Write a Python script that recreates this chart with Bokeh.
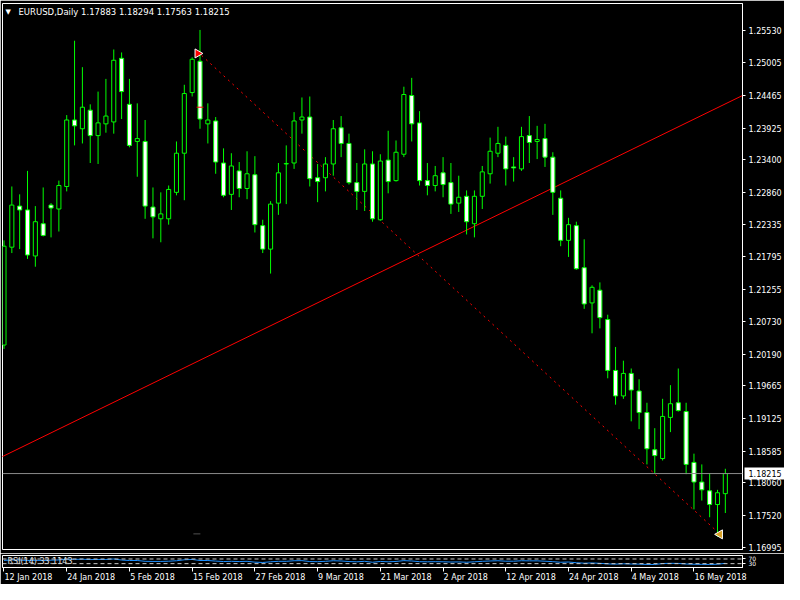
from bokeh.plotting import figure
from bokeh.models import Range1d, FixedTicker, Span, PrintfTickFormatter, LinearAxis
from bokeh.layouts import column
from bokeh.embed import file_html
from bokeh.resources import INLINE
from bokeh.core.properties import value
import math

# ---- data (EURUSD daily, 12 Jan 2018 .. 22 May 2018; bar index = trading day) ----
opens = [1.20339, 1.21956, 1.22635, 1.22571, 1.21811, 1.22344, 1.22652, 1.22587, 1.22959, 1.24058,
         1.23913, 1.24220, 1.23800, 1.23994, 1.24026, 1.25077, 1.24317, 1.23703, 1.23703, 1.22619,
         1.22425, 1.22425, 1.22862, 1.23509, 1.24511, 1.25029, 1.23994, 1.24042, 1.23347, 1.22829,
         1.23217, 1.22926, 1.23153, 1.22312, 1.21924, 1.22684, 1.23331, 1.23347, 1.24058, 1.24107,
         1.23104, 1.23104, 1.23331, 1.23929, 1.23670, 1.23023, 1.22878, 1.23331, 1.22409, 1.23395,
         1.23056, 1.23492, 1.24463, 1.24010, 1.23056, 1.22975, 1.23185, 1.23023, 1.22684, 1.22797,
         1.22344, 1.22797, 1.23169, 1.23509, 1.23638, 1.23282, 1.23250, 1.23800, 1.23703, 1.23751,
         1.23444, 1.22765, 1.22069, 1.22312, 1.21617, 1.21035, 1.21245, 1.20760, 1.19919, 1.19498,
         1.19870, 1.19579, 1.19223, 1.18609, 1.18463, 1.19143, 1.19385, 1.19240, 1.18399, 1.18075,
         1.17930, 1.17703, 1.17883]
highs = [1.22069, 1.22959, 1.22829, 1.23217, 1.22635, 1.22943, 1.22684, 1.23056, 1.24139, 1.25368,
         1.24931, 1.24317, 1.24527, 1.24737, 1.25223, 1.25174, 1.24737, 1.24333, 1.24058, 1.22943,
         1.22862, 1.22975, 1.23703, 1.24640, 1.25093, 1.25546, 1.24333, 1.24107, 1.23589, 1.23509,
         1.23363, 1.23541, 1.23460, 1.22409, 1.22716, 1.23347, 1.23638, 1.24188, 1.24430, 1.24446,
         1.23331, 1.23444, 1.24058, 1.24123, 1.23832, 1.23347, 1.23573, 1.23541, 1.23492, 1.23880,
         1.23719, 1.24608, 1.24754, 1.24204, 1.23347, 1.23298, 1.23444, 1.23347, 1.23137, 1.22894,
         1.22894, 1.23298, 1.23767, 1.23945, 1.23783, 1.23444, 1.23945, 1.24123, 1.23961, 1.23994,
         1.23525, 1.22894, 1.22441, 1.22377, 1.22086, 1.21326, 1.21374, 1.20840, 1.20307, 1.20080,
         1.19951, 1.19773, 1.19385, 1.18965, 1.19450, 1.19676, 1.19951, 1.19385, 1.18544, 1.18366,
         1.18221, 1.17946, 1.18294]
lows = [1.20275, 1.21859, 1.21924, 1.21762, 1.21633, 1.22134, 1.22118, 1.22215, 1.22878, 1.23638,
        1.23670, 1.23347, 1.23331, 1.23848, 1.23832, 1.24074, 1.23606, 1.23120, 1.22425, 1.22102,
        1.22037, 1.22328, 1.22813, 1.22732, 1.24446, 1.23913, 1.23670, 1.23169, 1.22781, 1.22571,
        1.22781, 1.22749, 1.22199, 1.21859, 1.21520, 1.22490, 1.22668, 1.23250, 1.23832, 1.22959,
        1.22700, 1.22878, 1.23137, 1.23444, 1.22991, 1.22571, 1.22554, 1.22377, 1.22393, 1.22846,
        1.23040, 1.23444, 1.23703, 1.22975, 1.22813, 1.22878, 1.22781, 1.22506, 1.22538, 1.22166,
        1.22118, 1.22587, 1.23007, 1.23444, 1.22975, 1.23040, 1.23217, 1.23347, 1.23412, 1.23282,
        1.22490, 1.21972, 1.21795, 1.21584, 1.20937, 1.20533, 1.20614, 1.19789, 1.19353, 1.19450,
        1.19078, 1.18949, 1.18366, 1.18221, 1.18431, 1.18900, 1.19240, 1.18205, 1.17623, 1.17768,
        1.17493, 1.17170, 1.17563]
closes = [1.21972, 1.22652, 1.22571, 1.21827, 1.22377, 1.22150, 1.22603, 1.22975, 1.24058, 1.23961,
          1.24269, 1.23800, 1.24010, 1.24123, 1.25045, 1.24527, 1.23638, 1.23751, 1.22635, 1.22457,
          1.22506, 1.22910, 1.23509, 1.24495, 1.25061, 1.24074, 1.24058, 1.23363, 1.22813, 1.23298,
          1.22926, 1.23169, 1.22328, 1.21924, 1.22668, 1.23185, 1.23339, 1.24042, 1.24107, 1.23088,
          1.23040, 1.23331, 1.23913, 1.23670, 1.23023, 1.22878, 1.23331, 1.22425, 1.23379, 1.23040,
          1.23525, 1.24479, 1.23994, 1.23056, 1.22975, 1.23137, 1.22991, 1.22668, 1.22781, 1.22377,
          1.22797, 1.23201, 1.23541, 1.23670, 1.23250, 1.23266, 1.23783, 1.23686, 1.23735, 1.23444,
          1.22862, 1.22069, 1.22328, 1.21600, 1.21018, 1.21293, 1.20792, 1.19919, 1.19498, 1.19870,
          1.19595, 1.19223, 1.18625, 1.18512, 1.19159, 1.19369, 1.19256, 1.18366, 1.18075, 1.17946,
          1.17703, 1.17898, 1.18215]
rsi = [58, 62, 61, 57, 59, 57, 60, 62, 68, 67, 68, 65, 66, 66, 70, 61, 57, 57, 50, 49,
       49, 51, 55, 63, 66, 57, 57, 52, 48, 50, 48, 50, 43, 40, 46, 50, 50, 55, 56, 48,
       47, 50, 55, 53, 48, 46, 50, 42, 49, 46, 49, 56, 53, 47, 46, 47, 46, 44, 45, 42,
       46, 50, 53, 55, 51, 51, 55, 54, 54, 51, 47, 42, 44, 38, 34, 36, 33, 28, 26, 29,
       27, 26, 23, 23, 31, 33, 32, 27, 25, 24, 23, 25, 33]

price_ticks = [1.16995, 1.17520, 1.18060, 1.18585, 1.19125, 1.19665, 1.20190, 1.20730, 1.21255,
               1.21795, 1.22335, 1.22860, 1.23400, 1.23925, 1.24465, 1.25005, 1.25530]
date_tick_bars = [0, 8, 16, 24, 32, 40, 48, 56, 64, 72, 80, 88]
date_tick_labels = ["12 Jan 2018", "24 Jan 2018", "5 Feb 2018", "15 Feb 2018", "27 Feb 2018",
                    "9 Mar 2018", "21 Mar 2018", "2 Apr 2018", "12 Apr 2018", "24 Apr 2018",
                    "4 May 2018", "16 May 2018"]
rsi_levels = [70, 30]
bid = 1.18215
bid_text = "1.18215"
header = "EURUSD,Daily  1.17883 1.18294 1.17563 1.18215"
rsi_title = "RSI(14) 33.1143"

# drawn objects (anchors in bar index / price)
trend_x = [-1.0, 96.0]
trend_y = [1.18445, 1.24577]
dash_x = [25.2, 91.0]
dash_y = [1.25126, 1.17251]
arrow_pt = (24.7, 1.25158)
tri_pt = (91.3, 1.17210)
mark_pt = (25.0, 1.24269)
gray_pt = (24.6, 1.17218)

FONT = "DejaVu Sans"
FS = 8
GREEN = "#00FF00"
W = 784
BORDER_L, BORDER_R = 2, 42
xr = Range1d(-0.19, 94.19)
px_per_bar = (W - BORDER_L - BORDER_R) / (xr.end - xr.start)

p = figure(width=W, height=553, x_range=xr, y_range=Range1d(1.16960, 1.25983),
           output_backend="svg", toolbar_location=None,
           min_border_left=BORDER_L, min_border_right=BORDER_R, min_border_top=3, min_border_bottom=4,
           background_fill_color="black", border_fill_color="black",
           outline_line_color="white", outline_line_width=1,
           x_axis_location=None, y_axis_location="right")
p.grid.visible = False
ya = p.yaxis[0]
ya.ticker = FixedTicker(ticks=price_ticks)
ya.formatter = PrintfTickFormatter(format="%.5f")
ya.axis_line_color = "white"
ya.major_tick_line_color = "white"
ya.major_tick_out = 3
ya.major_tick_in = 0
ya.minor_tick_line_color = None
ya.major_label_text_color = "white"
ya.major_label_text_font = FONT
ya.major_label_text_font_size = f"{FS}px"
ya.major_label_standoff = 3

# bid price box on the price scale: an outer axis whose single tick is drawn as a white band
bid_axis = LinearAxis(ticker=FixedTicker(ticks=[bid]),
                      major_label_overrides={bid: bid_text},
                      axis_line_color=None, minor_tick_line_color=None,
                      major_tick_in=40, major_tick_out=0,
                      major_tick_line_color="white", major_tick_line_width=12,
                      major_tick_line_cap="butt",
                      major_label_standoff=-36,
                      major_label_text_color="black", major_label_text_font=FONT,
                      major_label_text_font_size=f"{FS}px")
p.add_layout(bid_axis, "right")

xs = list(range(len(opens)))
bull_x = [i for i in xs if closes[i] >= opens[i]]
bear_x = [i for i in xs if closes[i] < opens[i]]

# bid line
p.add_layout(Span(location=bid, dimension="width", line_color="#8a8a8a", line_width=1))

# trend lines
p.line(trend_x, trend_y, line_color="#FF0000", line_width=1)
p.line(dash_x, dash_y, line_color="#FF0000", line_width=1, line_dash="2 4")

# candles
p.segment(x0=xs, y0=highs, x1=xs, y1=lows, line_color=GREEN, line_width=1)
p.vbar(x=bull_x, width=0.52, top=[closes[i] for i in bull_x], bottom=[opens[i] for i in bull_x],
       fill_color="black", line_color=GREEN, line_width=1)
p.vbar(x=bear_x, width=0.52, top=[opens[i] for i in bear_x], bottom=[closes[i] for i in bear_x],
       fill_color="white", line_color=GREEN, line_width=1)

# markers
p.scatter([mark_pt[0]], [mark_pt[1]], marker="dash", size=7, line_color="#FF0000", line_width=1)
p.scatter([gray_pt[0]], [gray_pt[1]], marker="dash", size=7, line_color="#505050", line_width=1)
p.scatter([arrow_pt[0]], [arrow_pt[1]], marker="triangle", angle=-math.pi / 2, size=9,
          fill_color="#FF0000", line_color="white", line_width=1)
p.scatter([tri_pt[0]], [tri_pt[1]], marker="triangle", angle=math.pi / 2, size=9,
          fill_color="#D9A021", line_color="white", line_width=1)

# header
p.text(x=[xr.start], y=[1.25983], text=["\u25bc"], x_offset=3, y_offset=8,
       text_baseline="middle", text_color="white", text_font=value(FONT), text_font_size="7px")
p.text(x=[xr.start], y=[1.25983], text=[header], x_offset=16, y_offset=8,
       text_baseline="middle", text_color="white", text_font=value(FONT), text_font_size="8.5px")

# ---- RSI pane ----
r = figure(width=W, height=31, x_range=xr, y_range=Range1d(-3, 100),
           output_backend="svg", toolbar_location=None,
           min_border_left=BORDER_L, min_border_right=BORDER_R, min_border_top=2, min_border_bottom=16,
           background_fill_color="black", border_fill_color="black",
           outline_line_color="white", outline_line_width=1,
           x_axis_location="below", y_axis_location="right")
r.grid.visible = False
for lv in rsi_levels:
    r.add_layout(Span(location=lv, dimension="width", line_color="#C8C8C8",
                      line_width=1, line_dash="4 3"))
r.line(xs, rsi, line_color="#1E90FF", line_width=1)
r.text(x=[xr.start], y=[48], text=[rsi_title], x_offset=5, y_offset=0, text_baseline="middle",
       text_color="#E0E0E0", text_font=value(FONT), text_font_size=f"{FS}px")

# date axis: tick marks at the bars, labels start at the tick (MT4 style)
xa = r.xaxis[0]
xa.ticker = FixedTicker(ticks=date_tick_bars)
xa.major_label_overrides = {b: "" for b in date_tick_bars}
xa.major_label_text_font_size = "1px"
xa.major_label_standoff = 0
xa.axis_line_color = "white"
xa.major_tick_line_color = "white"
xa.major_tick_out = 4
xa.major_tick_in = 0
xa.minor_tick_line_color = None

EM = {"0": .636, "1": .636, "2": .636, "3": .636, "4": .636, "5": .636, "6": .636, "7": .636,
      "8": .636, "9": .636, " ": .318, "J": .295, "a": .613, "n": .634, "F": .575, "e": .615,
      "b": .635, "M": .863, "r": .411, "A": .684, "p": .635, "y": .592}


def half_width_bars(s):
    w = sum(EM.get(ch, 0.6) for ch in s) * FS
    return round((w / 2 + 0.5) / px_per_bar, 4)


label_pos = [b + half_width_bars(s) for b, s in zip(date_tick_bars, date_tick_labels)]
xl = LinearAxis(ticker=FixedTicker(ticks=label_pos),
                major_label_overrides={pos: s for pos, s in zip(label_pos, date_tick_labels)},
                axis_line_color=None, major_tick_line_color=None, major_tick_out=0, major_tick_in=0,
                minor_tick_line_color=None, major_label_standoff=1,
                major_label_text_color="white", major_label_text_font=FONT,
                major_label_text_font_size=f"{FS}px")
r.add_layout(xl, "below")

ra = r.yaxis[0]
ra.ticker = FixedTicker(ticks=rsi_levels)
ra.axis_line_color = "white"
ra.major_tick_line_color = "white"
ra.major_tick_out = 3
ra.major_tick_in = 0
ra.minor_tick_line_color = None
ra.major_label_text_color = "white"
ra.major_label_text_font = FONT
ra.major_label_text_font_size = "6px"
ra.major_label_standoff = 3

layout = column(p, r, spacing=0)
open("out.html", "w").write(file_html(layout, INLINE))
